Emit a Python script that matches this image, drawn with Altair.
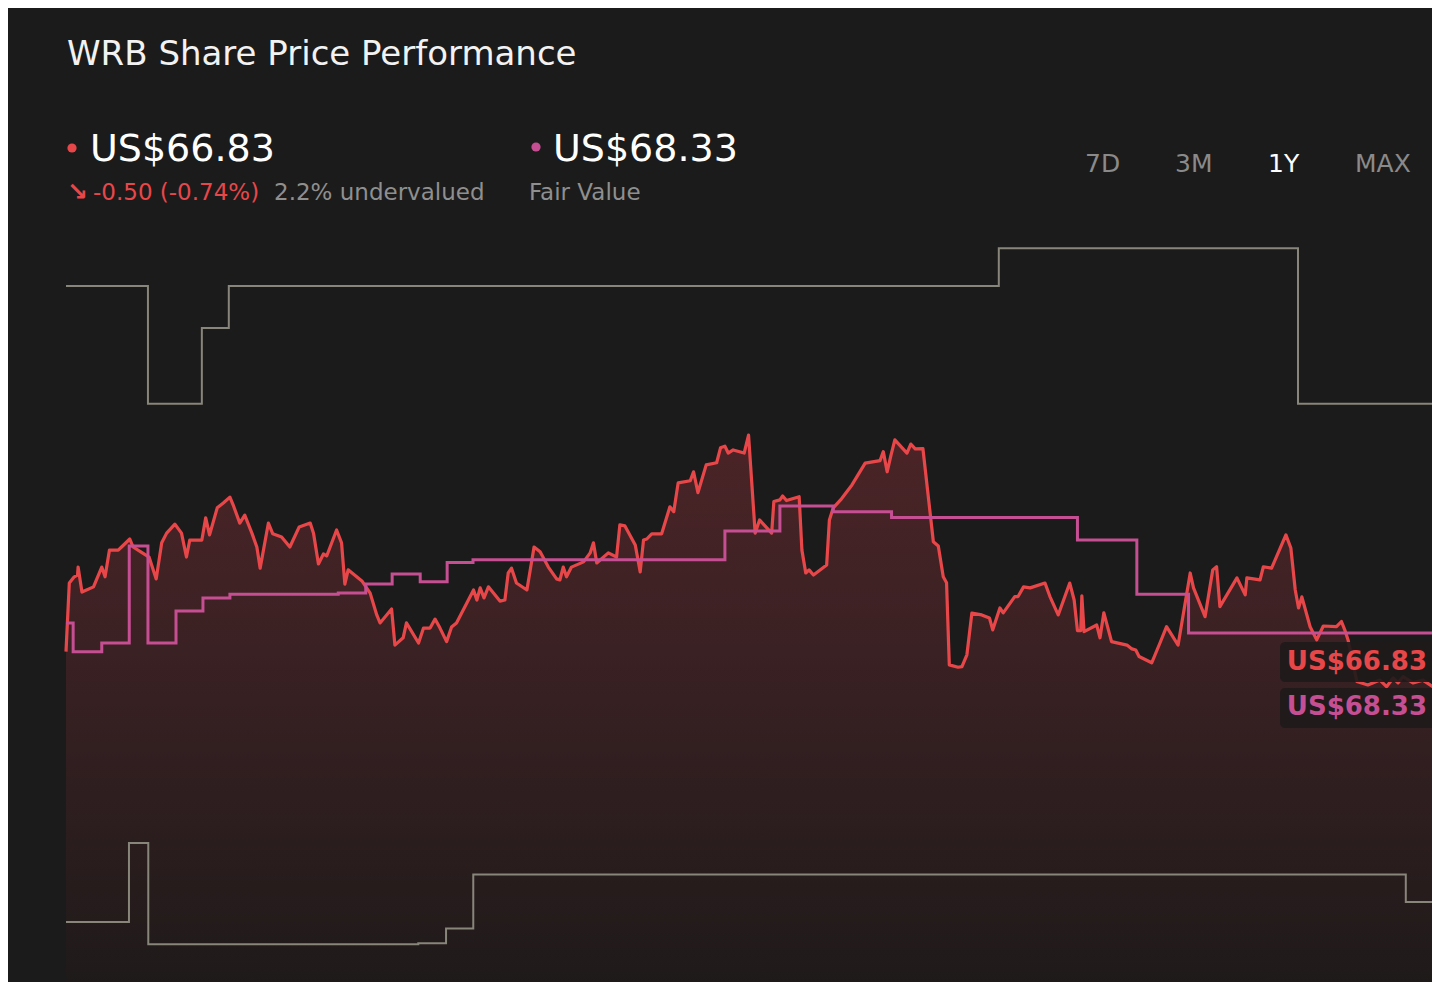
import altair as alt
import pandas as pd

# ---------------- data ----------------
# share price: (trading day, US$)
price_points = [
    (0, 67.79), (0.6, 69.77), (1.5, 69.95), (2.1, 70.00), (2.2, 70.23), (2.9, 69.51), (5.0, 69.66),
    (6.5, 70.23), (7.1, 69.95), (7.9, 70.72), (9.5, 70.72), (10.1, 70.81), (11.6, 71.04), (12.2, 70.81),
    (13.6, 70.67), (15.1, 70.52), (16.4, 69.89), (17.4, 70.93), (18.3, 71.21), (19.8, 71.47), (21.0, 71.21),
    (21.9, 70.52), (22.5, 71.01), (24.7, 71.01), (25.4, 71.65), (26.1, 71.16), (27.5, 71.94), (28.6, 72.08),
    (29.8, 72.25), (30.4, 72.02), (31.6, 71.50), (32.5, 71.73), (33.8, 71.21), (34.7, 70.81), (35.3, 70.20),
    (36.8, 71.50), (37.6, 71.19), (39.2, 71.10), (40.7, 70.81), (42.4, 71.39), (44.4, 71.50), (45.0, 71.21),
    (45.9, 70.32), (46.8, 70.61), (47.4, 70.55), (49.2, 71.30), (50.1, 70.93), (50.7, 69.74), (51.3, 70.15),
    (53.8, 69.83), (55.3, 69.48), (56.5, 68.85), (57.1, 68.62), (59.2, 69.02), (59.8, 67.98), (61.3, 68.19),
    (61.9, 68.62), (64.1, 68.04), (65.0, 68.47), (66.2, 68.47), (67.1, 68.73), (68.0, 68.47), (69.2, 68.08),
    (70.1, 68.50), (71.0, 68.62), (74.1, 69.57), (74.7, 69.28), (75.3, 69.63), (76.0, 69.34), (76.8, 69.66),
    (78.9, 69.25), (79.8, 69.28), (80.4, 70.06), (81.0, 70.20), (81.9, 69.77), (83.8, 69.57), (85.1, 70.81),
    (86.2, 70.67), (87.7, 70.23), (89.2, 69.89), (89.8, 69.86), (90.4, 70.23), (91.0, 69.95), (91.9, 70.23),
    (94.1, 70.38), (95.3, 70.64), (95.9, 70.93), (96.5, 70.35), (98.6, 70.64), (100.1, 70.52), (100.7, 71.45),
    (101.6, 71.42), (103.5, 70.87), (104.4, 70.09), (105.0, 71.01), (105.6, 71.04), (106.5, 71.19),
    (108.3, 71.19), (109.8, 71.97), (110.5, 71.83), (111.3, 72.66), (113.5, 72.72), (114.1, 72.98),
    (114.9, 72.38), (116.4, 73.18), (118.3, 73.24), (119.0, 73.67), (119.8, 73.72), (120.4, 73.52),
    (121.3, 73.61), (123.3, 73.52), (124.1, 74.04), (125.3, 71.21), (126.1, 71.59), (128.3, 71.21),
    (128.7, 72.12), (129.8, 72.17), (130.3, 72.28), (131.0, 72.15), (133.3, 72.26), (133.8, 70.72),
    (134.5, 70.06), (135.1, 70.15), (135.9, 70.00), (138.3, 70.29), (138.8, 71.59), (139.5, 71.94),
    (141.0, 72.20), (142.9, 72.60), (145.3, 73.23), (148.0, 73.30), (148.6, 73.56), (149.3, 72.98),
    (150.0, 73.46), (150.7, 73.90), (152.9, 73.52), (153.6, 73.78), (154.4, 73.64), (155.8, 73.65),
    (157.7, 70.96), (158.6, 70.84), (159.5, 69.95), (160.1, 69.78), (160.6, 67.41), (162.2, 67.34),
    (162.9, 67.36), (163.8, 67.70), (164.7, 68.90), (166.5, 68.85), (167.9, 68.76), (168.5, 68.42),
    (169.8, 69.05), (170.4, 68.91), (172.5, 69.38), (173.1, 69.38), (174.1, 69.66), (175.3, 69.63),
    (178.0, 69.77), (178.9, 69.38), (180.4, 68.85), (182.5, 69.77), (183.3, 69.28), (183.9, 68.40),
    (184.5, 68.40), (184.7, 69.40), (185.1, 68.37), (187.4, 68.56), (188.0, 68.19), (188.7, 68.91),
    (190.1, 68.08), (192.9, 67.98), (193.8, 67.87), (194.5, 67.84), (195.1, 67.65), (197.4, 67.47),
    (198.9, 68.04), (200.1, 68.51), (202.2, 67.98), (204.4, 70.06), (205.0, 69.63), (207.1, 68.80),
    (208.5, 70.15), (209.2, 70.24), (209.8, 69.09), (212.9, 69.92), (214.4, 69.43), (214.7, 69.92),
    (217.1, 69.86), (217.7, 70.24), (219.2, 70.20), (221.8, 71.16), (222.7, 70.78), (223.5, 69.57),
    (224.1, 69.05), (224.7, 69.37), (226.2, 68.51), (227.4, 68.13), (228.6, 68.53), (231.0, 68.51),
    (231.9, 68.66), (232.5, 68.42), (233.1, 68.13), (234.7, 66.93), (236.7, 66.83), (238.9, 66.97),
    (240.1, 66.78), (241.3, 67.03), (242.2, 66.89), (243.1, 67.07), (244.9, 66.89), (246.7, 66.97),
    (248.5, 66.78), (249.8, 66.83),
]
price_day = [p[0] for p in price_points]
price_val = [p[1] for p in price_points]

# fair value (step)
fv_day = [0, 1.3, 6.5, 11.5, 14.9, 20.0, 24.9, 29.8, 49.5, 54.5, 59.3, 64.4, 69.3, 74.0,
          119.8, 129.8, 139.5, 150.1, 183.9, 194.7, 204.1, 250]
fv_val = [68.62, 67.79, 68.04, 70.84, 68.04, 68.96, 69.34, 69.45, 69.48, 69.74, 70.03, 69.81, 70.36, 70.44,
          71.27, 71.99, 71.83, 71.66, 71.01, 69.45, 68.33, 68.33]

# upper / lower grey steps
hi_day = [0, 14.9, 24.7, 29.6, 169.6, 224.0, 250]
hi_val = [78.34, 74.94, 77.13, 78.34, 79.43, 74.94, 74.94]
lo_day = [0, 11.45, 14.96, 64.05, 69.1, 74.05, 243.6, 250]
lo_val = [59.99, 62.27, 59.35, 59.38, 59.80, 61.36, 60.57, 60.57]

last_price = "US$66.83"
fair_value = "US$68.33"
change_arrow = "↘"
change_text = "-0.50 (-0.74%)"
valuation_text = "2.2% undervalued"
title_text = "WRB Share Price Performance"
periods = ["7D", "3M", "1Y", "MAX"]

# ---------------- layout ----------------
W, H = 1424, 974
Y_MIN, Y_MAX = 58.26, 86.36
FONT = "DejaVu Sans"
RED = "#e8474a"
PINK = "#c54f92"
GREY_LINE = "#88857a"
BG = "#1b1b1b"

xs = alt.Scale(domain=[0, 250], range=[58, 1433], nice=False)
ys = alt.Scale(domain=[Y_MIN, Y_MAX], nice=False, zero=False)

price_df = pd.DataFrame({"day": price_day, "val": price_val})
fv_df = pd.DataFrame({"day": fv_day, "val": fv_val})
hi_df = pd.DataFrame({"day": hi_day, "val": hi_val})
lo_df = pd.DataFrame({"day": lo_day, "val": lo_val})

X = alt.X("day:Q", scale=xs, axis=None)
Y = alt.Y("val:Q", scale=ys, axis=None)

area = alt.Chart(price_df).mark_area(
    clip=True,
    color=alt.Gradient(
        gradient="linear", x1=0, x2=0, y1=0, y2=1,
        stops=[
            alt.GradientStop(color="#4b2427", offset=0),
            alt.GradientStop(color="#3a2123", offset=0.4),
            alt.GradientStop(color="#1f1a1a", offset=1),
        ],
    ),
).encode(x=X, y=Y, y2=alt.datum(Y_MIN))

hi_line = alt.Chart(hi_df).mark_line(color=GREY_LINE, strokeWidth=2, interpolate="step-after", clip=True).encode(x=X, y=Y)
lo_line = alt.Chart(lo_df).mark_line(color=GREY_LINE, strokeWidth=2, interpolate="step-after", clip=True).encode(x=X, y=Y)
price_line = alt.Chart(price_df).mark_line(color=RED, strokeWidth=3.2, strokeJoin="round", clip=True).encode(x=X, y=Y)
fv_line = alt.Chart(fv_df).mark_line(color=PINK, strokeWidth=3, interpolate="step-after", clip=True).encode(x=X, y=Y)


def txt(s, x, y, size, color, weight="normal", align="left"):
    return alt.Chart(pd.DataFrame({"t": [s]})).mark_text(
        align=align, baseline="alphabetic", font=FONT, fontSize=size,
        fontWeight=weight, color=color,
    ).encode(text="t:N", x=alt.value(x), y=alt.value(y))


def dot(x, y, color):
    return alt.Chart(pd.DataFrame({"t": [0]})).mark_circle(color=color, size=85, opacity=1).encode(
        x=alt.value(x), y=alt.value(y))


def box(x1, x2, y1, y2):
    return alt.Chart(pd.DataFrame({"t": [0]})).mark_rect(
        color="#1f1a1a", opacity=0.92, cornerRadius=5
    ).encode(x=alt.value(x1), x2=alt.value(x2), y=alt.value(y1), y2=alt.value(y2))


layers = [
    area, hi_line, lo_line, price_line, fv_line,
    txt(title_text, 59, 57, 34, "#f2f2f2"),
    dot(64, 140, RED),
    txt(last_price, 82, 153, 38, "#ffffff"),
    txt(change_arrow, 59, 192, 25, RED, "bold"),
    txt(change_text, 85, 192, 23, RED),
    txt(valuation_text, 266, 192, 23, "#8f8f8f"),
    dot(528, 139, PINK),
    txt(fair_value, 545, 153, 38, "#ffffff"),
    txt("Fair Value", 521, 192, 23, "#8f8f8f"),
]
period_x = [1077, 1167, 1260, 1347]
for p, px in zip(periods, period_x):
    layers.append(txt(p, px, 164, 25, "#ffffff" if p == "1Y" else "#8a8a8a"))

layers += [
    box(1272, 1440, 634, 674),
    box(1272, 1440, 680, 720),
    txt(last_price, 1419, 662, 26, RED, "bold", "right"),
    txt(fair_value, 1419, 707, 26, PINK, "bold", "right"),
]

chart = alt.layer(*layers).properties(
    width=W, height=H, padding=0,
    autosize=alt.AutoSizeParams(type="none"),
    background=BG,
).configure_view(stroke=None)

chart.save("out.html", embed_options={"renderer": "svg", "actions": False})
